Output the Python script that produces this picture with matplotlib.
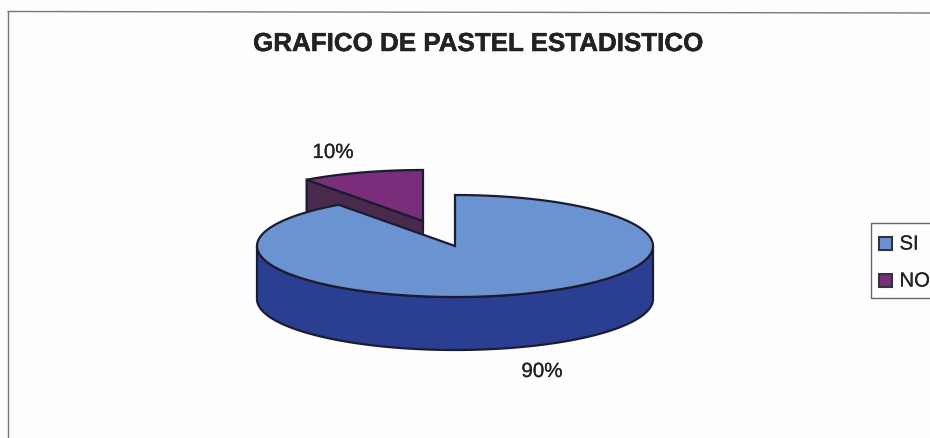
import numpy as np
import matplotlib
matplotlib.use("Agg")
import matplotlib.pyplot as plt
import matplotlib.patheffects as pe
from matplotlib.patches import Polygon, Rectangle

plt.rcParams["font.family"] = ["Liberation Sans", "DejaVu Sans"]

# Chart content
title = "GRAFICO DE PASTEL ESTADISTICO"
categories = ["SI", "NO"]
values = [90, 10]
top_colors = ["#6b93d2", "#7a2d7a"]
side_colors = ["#2a3f92", "#4a2a4c"]
edge_color = "#1c1c30"
text_color = "#222222"

# 3-D pie geometry, in figure pixels
CENTER = np.array([455.0, 247.0])
RX, RY = 198.0, 51.0
DEPTH = 53.0
EXPLODE = np.array([-32.0, -25.0])
EDGE_W = 1.6

fig = plt.figure(figsize=(9.30, 4.39), dpi=100, facecolor="#fdfdfd")
ax = fig.add_axes([0, 0, 1, 1])
ax.set_xlim(0, 930)
ax.set_ylim(439, 0)
ax.axis("off")

# Hairline strokes give the text the weight of the printed original
title_stroke = [pe.withStroke(linewidth=0.35, foreground=text_color)]
label_stroke = [pe.withStroke(linewidth=0.15, foreground=text_color)]


def rim(center, start, stop, n=160):
    """Points on the pie ellipse; angles run clockwise from 12 o'clock."""
    t = np.radians(np.linspace(start, stop, n))
    return np.column_stack([center[0] + RX * np.sin(t), center[1] - RY * np.cos(t)])


def draw_slice(center, start, stop, top, side, z):
    # Outer wall: only the part of the rim facing the viewer (90 to 270 degrees)
    a, b = max(start, 90), min(stop, 270)
    if a < b:
        arc = rim(center, a, b)
        wall = np.vstack([arc, arc[::-1] + [0, DEPTH]])
        ax.add_patch(Polygon(wall, closed=True, fc=side, ec=edge_color, lw=EDGE_W, zorder=z))
    # Top face
    pts = np.vstack([center, rim(center, start, stop)])
    ax.add_patch(Polygon(pts, closed=True, fc=top, ec=edge_color, lw=EDGE_W, zorder=z + 1))


def draw_cut_face(center, angle, side, z):
    # Flat wall along one radial cut of an exploded slice
    edge = rim(center, angle, angle, n=1)[0]
    face = np.array([center, edge, edge + [0, DEPTH], center + [0, DEPTH]])
    ax.add_patch(Polygon(face, closed=True, fc=side, ec=edge_color, lw=EDGE_W, zorder=z))


# Slice angles follow from the values
fractions = np.array(values) / sum(values)
ends = np.cumsum(fractions) * 360

# The small slice sits behind the large one, pulled out towards the back left
no_center = CENTER + EXPLODE
draw_cut_face(no_center, ends[0], side_colors[1], 2)
draw_slice(no_center, ends[0], ends[1], top_colors[1], side_colors[1], 3)

# The large slice is drawn last so it hides the lower part of the small one
draw_slice(CENTER, 0, ends[0], top_colors[0], side_colors[0], 6)

# Percentage labels
for x, y, v in [(333, 159, values[1]), (542, 378, values[0])]:
    ax.text(x, y, f"{v}%", ha="center", va="baseline", fontsize=14.8,
            color=text_color, zorder=9, path_effects=label_stroke)

# Title
ax.text(478.5, 52, title, ha="center", va="baseline", fontsize=18.7, fontweight="bold",
        color=text_color, zorder=9, path_effects=title_stroke)

# Outer frame, running off the right and bottom of the figure
ax.plot([8, 8], [439, 12.5], color="#777777", lw=1.0, zorder=1)
ax.plot([8, 930], [12.5, 14], color="#777777", lw=1.0, zorder=1)

# Legend box and entries
ax.add_patch(Rectangle((871, 224), 70, 75, fc="none", ec="#666666", lw=1.0, zorder=8))
for y, name, color in zip([244, 281], categories, top_colors):
    ax.add_patch(Rectangle((879, y - 6.5), 12.5, 13, fc=color, ec="#333340", lw=1.5, zorder=9))
    ax.text(899.5, y + 6.5, name, ha="left", va="baseline", fontsize=14.6,
            color=text_color, zorder=9, path_effects=label_stroke)

fig.savefig("out.png", dpi=100, facecolor=fig.get_facecolor())
